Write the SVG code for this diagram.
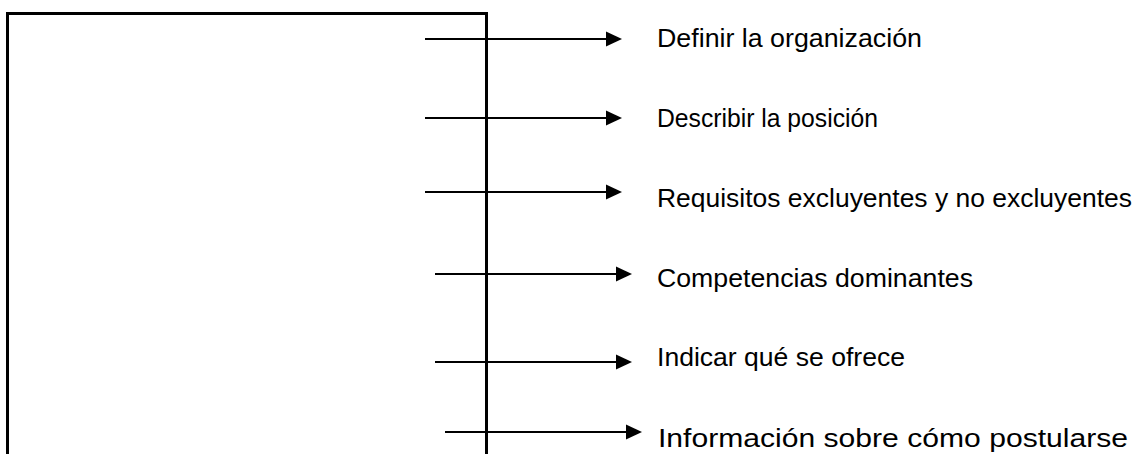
<svg xmlns="http://www.w3.org/2000/svg" width="1136" height="454" viewBox="0 0 1136 454">
<defs>
<style>
.box{fill:none;stroke:#000;stroke-width:3}
.ln{stroke:#000;stroke-width:2;fill:none}
.hd{fill:#000;stroke:none}
.lbl{font-family:"Liberation Sans",Arial,sans-serif;font-size:26px;fill:#000}
</style>
<path id="head" class="hd" d="M-16,-7.5 L0,0 L-16,7.5 Z"/>
</defs>
<rect width="1136" height="454" fill="#fff"/>
<g id="frame">
<path class="box" d="M7.5,456 V13.5 H486.5 V456"/>
</g>
<g id="connectors">
<line class="ln" x1="425" y1="39" x2="610" y2="39"/><use href="#head" x="622" y="39"/>
<line class="ln" x1="425" y1="118" x2="610" y2="118"/><use href="#head" x="622" y="118"/>
<line class="ln" x1="425" y1="192" x2="610" y2="192"/><use href="#head" x="622" y="192"/>
<line class="ln" x1="435" y1="274" x2="620" y2="274"/><use href="#head" x="632" y="274"/>
<line class="ln" x1="435" y1="362" x2="620" y2="362"/><use href="#head" x="632" y="362"/>
<line class="ln" x1="445" y1="432" x2="630" y2="432"/><use href="#head" x="642" y="432"/>
</g>
<g id="n1"><text class="lbl" x="657" y="47" textLength="265" lengthAdjust="spacingAndGlyphs">Definir la organización</text></g>
<g id="n2"><text class="lbl" x="657" y="127" textLength="221" lengthAdjust="spacingAndGlyphs">Describir la posición</text></g>
<g id="n3"><text class="lbl" x="657" y="207" textLength="475" lengthAdjust="spacingAndGlyphs">Requisitos excluyentes y no excluyentes</text></g>
<g id="n4"><text class="lbl" x="657" y="287" textLength="316" lengthAdjust="spacingAndGlyphs">Competencias dominantes</text></g>
<g id="n5"><text class="lbl" x="657" y="366" textLength="248" lengthAdjust="spacingAndGlyphs">Indicar qué se ofrece</text></g>
<g id="n6"><text class="lbl" x="658" y="447" textLength="470" lengthAdjust="spacingAndGlyphs">Información sobre cómo postularse</text></g>
</svg>
